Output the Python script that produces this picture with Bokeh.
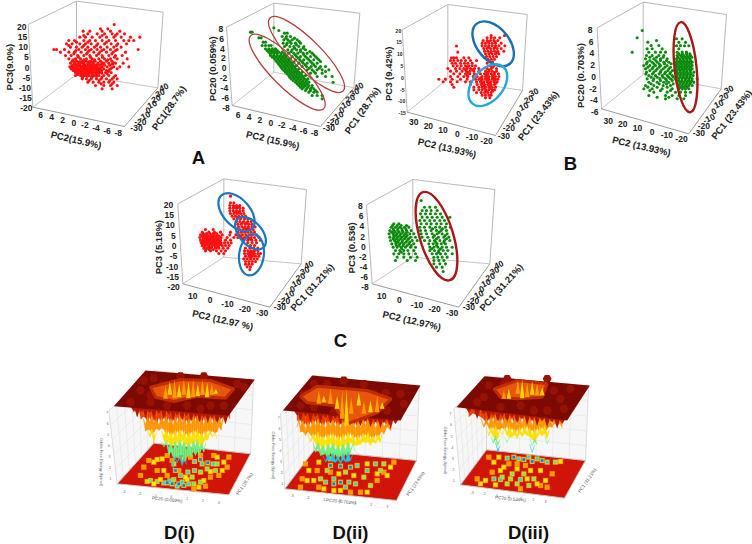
from bokeh.plotting import figure
from bokeh.embed import file_html
from bokeh.resources import INLINE
from bokeh.core.properties import value

F = "Liberation Sans"
RED, GREEN = "#ff1010", "#0a8a0a"

# ---------- scatter values: {row: [columns]} in crop units
a1_rows = {72:[341],85:[300,322],92:[248,268,305,330,358],100:[262,290,312,335,350,372],
110:[238,255,275,298,318,340,362,390,418],120:[205,222,250,268,285,305,325,345,370,385,400],
130:[198,215,238,255,272,292,312,332,352,378],140:[210,228,245,262,282,300,320,340,362],
147:[160,168,192,235,255,272,290,310,330,350,413],155:[180,205,222,242,262,280,298,318,338,375],
165:[195,212,232,250,268,288,305,325,345,365],175:[205,225,240,258,275,295,312,330,350,380],
182:[215,228,244,256,270,284,300,318,334],188:[210,222,235,248,262,278,292,310,325,345,368],
194:[216,226,238,250,262,274,286,298,312,328],199:[208,218,228,240,252,265,278,290,305,320,340,358,385],
205:[212,222,232,245,255,268,280,295,310,330,350],210:[218,230,242,254,266,278,292,304,318],
216:[225,235,248,258,270,285,298,315,332],225:[225,240,252,265,280,295,310,325,345],
235:[245,258,272,288,302,318,335,350],245:[262,278,295,310,325,340],255:[285,310,330,350],265:[305,335]}
a1_more = {105:[250,305,345],125:[228,262,318],135:[205,250,288,348],150:[226,266,304,345],160:[220,258,294,334],
170:[234,270,306,342],178:[218,250,282,322],186:[242,270,304,338],
191:[232,268,304,336],202:[224,250,274,300,334],208:[226,260,288,326],
213:[240,264,296,324],220:[232,256,290,320],230:[246,274,304,340],240:[266,296,328],250:[302,335]}
a1_core = {184:[222,236,250,264,278],192:[224,238,252,266,280,294],197:[214,232,246,258,272,284],203:[218,228,242,258,270,284,292],
207:[236,248,262,276,300],212:[224,236,248,272,286,298],218:[240,252,264,278,292,304],222:[232,246,262,274,288],227:[248,260,274,288]}
a2_low = {95:[750,755],112:[775,782],125:[788,795],135:[785,795,805,812],145:[795,805,815,825],
155:[805,815,825,835,845],165:[810,820,830,840,850,858],175:[822,832,842,852,862,870],
185:[830,840,850,860,870,880],195:[838,848,858,868,878,888],205:[845,855,865,875,885,895],
215:[855,865,875,885,895,905],225:[865,875,885,895,905,915],235:[872,882,892,902,912,922],
245:[885,895,905,915,925],255:[895,905,915,925,935],265:[905,918,930,940],275:[925,940,950],
285:[935,950,965],295:[965]}
a2_lowm = {150:[800,810,820,830],160:[810,820,830,842,852],170:[816,826,836,846,856],180:[826,836,846,856,866],190:[834,844,854,864,874],
200:[842,852,862,872,882],210:[850,860,870,880,890],220:[860,870,880,890,900],230:[868,878,888,898,908],240:[878,888,898,908,918],250:[890,900,910,920],260:[900,910,922,934],270:[915,930,945]}
a2_up = {82:[820],90:[835],98:[852,860],108:[845,858,870],118:[850,862,875,890],128:[848,860,872,885,900],
138:[852,868,880,895,910],148:[862,875,888,900,915],158:[865,880,892,908,920,935],
168:[875,888,900,915,930,945],178:[885,898,910,925,940,955],188:[895,908,920,935,950],
198:[905,918,932,945,960,975],208:[920,935,950,965,985],218:[930,945,965],228:[950,975,995],245:[998]}
a2_upm = {113:[856,882],123:[868,896],133:[858,888],143:[882,908],153:[872,900,928],
163:[884,910,940],173:[894,920,950],183:[904,930,960],193:[914,940],203:[926,956],213:[940,975]}
b1_rows = {105:[362,402],112:[350,362,372,388],120:[338,350,360,370,382],128:[335,345,355,365,375,392],
136:[335,345,355,365,375,385,403],144:[340,350,360,370,380,392],152:[342,352,362,372,382,400],
160:[345,355,365,375,385],168:[348,358,368,378],176:[352,362,372],184:[358,366],136.5:[258],
155:[262],172:[243,250,258,280,295],180:[240,250,262,272,285,300,318],188:[245,255,270,282,292,305,350],
196:[248,260,272,285,295,305,315,360,370],204:[232,255,268,280,290,300,312,325,350,362,378],
212:[240,258,275,288,298,310,325,345,355,365,378],220:[250,268,285,298,312,330,342,352,362,372,384],
228:[240,262,280,292,308,320,335,345,355,365,375,385],236:[205,225,245,270,290,315,325,335,345,355,365,375,382],
244:[218,240,260,285,300,318,330,340,350,360,370,380],252:[245,300,320,332,342,352,362,372],
260:[250,310,325,335,345,355,365,375],268:[310,325,335,345,355,365,372],276:[318,332,342,352,362],
284:[335,345,355,362],292:[345,358]}
b1_more = {124:[354,374],140:[354,374],156:[360,380],200:[290,366],208:[285,306,356],216:[292,350,372],224:[290,348,368],
232:[330,350,370],240:[332,352,372],248:[336,356,376],256:[340,360],264:[342,362],272:[348,366]}
b2_rows = {90:[815],112:[800],120:[858],125:[832],135:[842,865],145:[830,845,875,925],155:[785,835,855,870,885,920,935,948],
115:[918,935],125.5:[925,945],135.5:[918,930,942,955],165:[828,845,865,880,920,930,940,950,960],175:[825,850,870,890,918,928,938,948,958],
185:[830,845,860,880,895,915,925,935,945,955,965],195:[820,838,855,870,890,915,925,935,945,955,965],
205:[825,845,860,878,895,915,925,935,945,955,965],215:[828,850,870,885,900,918,928,938,948,958,970],
225:[835,855,875,890,905,918,928,938,948,958,968],235:[830,850,868,885,900,915,925,935,945,955,965,980],
245:[835,860,880,895,920,930,940,950,960,970],255:[825,850,878,900,925,935,945,955,965],
265:[820,845,875,905,925,935,945,955],275:[850,890,915,930,945,960],285:[835,885,905,925,945],295:[885,920,940]}
b2_more = {160:[925,936,948,958],170:[922,934,944,954,964],180:[920,930,940,950,960],190:[920,930,940,950,960],200:[920,930,940,950,960],
210:[920,930,940,950,960],220:[922,932,942,952,962],230:[920,930,940,950,960],240:[924,934,944,954,964],250:[928,938,948,958],260:[930,940,950]}
b2_left = {170:[838,858,878],180:[838,856,870,888],190:[828,850,866,882,902],200:[832,848,866,884,900],210:[838,856,872,892,906],220:[826,846,866,882,898],
230:[842,860,878,894,908],240:[848,870,888,905],250:[842,866,888,908],260:[832,860,890],270:[838,870,900],290:[860,895]}
c1_rows = {92:[240],112:[240,250],120:[238,248,258,268],128:[238,248,258,268,278],136:[238,248,258,268,278],
144:[240,250,260,270,280],152:[245,255,265,275,285],160:[250,260,270,282,292],168:[258,268,280,292,302],
176:[262,272,284,294,304],184:[264,274,284,294,304,314],192:[165,188,268,278,288,298,308],200:[155,175,192,210,240,262,272,282,292,302,312],
208:[150,160,170,180,190,200,215,238,256,266,276,286,296,306,318],216:[148,158,168,178,188,198,212,230,250,262,272,282,292,302,312,325],
224:[150,160,170,180,190,200,210,225,240,280,292,304,316,330],232:[152,162,172,182,192,202,212,222,232,242,292,305,318],
240:[155,165,175,185,195,205,215,225,236,300,312],248:[160,170,180,195,205,218,232,285,298,310,322],
256:[165,180,198,212,225,282,292,302,312,322],264:[205,220,282,292,302,312,322,330],272:[285,295,305,315,325],
280:[280,290,300,310,320],288:[285,295,305,315],296:[285,295,305],304:[290,300],312:[298]}
c1_more = {124:[253,263],140:[255,265],156:[262,272],172:[276,288],188:[282,292],212:[164,184,206,270,290],220:[174,194,278,298],228:[166,186,206],
236:[170,190,210],244:[175,200],260:[298,308],268:[298,308],276:[300]}
c1_core = {204:[158,168,178,188,198],212:[156,172,192],216.5:[162,182,202],220:[158,168,184,204],228:[156,176,196],232.5:[168,188,208],236:[158,178,198],244:[162,184,194],252:[166,176,188]}
c2_rows = {105:[812],125:[822,838,855],135:[815,828,842,860],145:[810,825,840,855,870],155:[815,830,845,860,875,898],
165:[808,822,838,852,868,882],175:[730,745,812,828,842,858,872,888],185:[722,735,748,762,775,808,822,838,855,868,885,900],
195:[718,730,742,755,768,782,810,825,842,858,872,888],205:[716,728,740,752,765,778,790,812,828,845,860,875,890],
215:[718,730,742,754,766,780,795,815,832,848,864,880,895],225:[720,732,744,756,770,785,800,822,838,852,868,882,898],
235:[724,736,748,760,775,790,835,848,860,872,885],245:[728,740,752,765,780,795,838,850,862,875,888,905],
255:[735,748,760,772,790,838,852,865,878,892],265:[730,745,760,775,795,845,858,870,885,905],
275:[740,760,780,800,850,862,875,890],285:[735,770,795,850,865,880],295:[850,868,885],305:[858,875],318:[878]}
c2_more = {190:[728,754,846,876],200:[734,758,866],210:[736,760,852,884],220:[738,762,858,888],
230:[742,766,856,880],240:[746,770,858],250:[754,844,870],260:[752,864]}
c2_core = {180:[726,740,752,768],190:[742,766],200:[724,746,770],210:[730,748,770],220:[728,750,774],230:[736,754,778],240:[738,758,782]}

# ---------- panel furniture: crop origin, box corners, tick text
z_pc3 = ["20","15","10","5","0","-5","-10","-15","-20"]
z_pc20 = ["8","6","4","2","0","-2","-4","-6","-8"]
pc1_a = ["-30","-20","-10","0","10","20","30","40"]
pc1_b = ["-30","-20","-10","0","10","20","30"]
pc2_a = ["6","4","2","0","-2","-4","-6","-8"]
pc2_b = ["30","20","10","0","-10","-20"]
pc2_c = ["10","0","-10","-20","-30"]
energy_ticks = ["1","2","3","4","5","6","7"]
pc_ticks = ["-3","-2","-1","0","1","2","3"]

panels = [
 dict(o=(0,0),tb=(228,2),tl=(83,72),tr=(488,35),lb=(97,320),fr=(372,378),rb=(472,262),fb=(228,222),
      zt=z_pc3,ze=((78,80),(96,322)),zs=8.5,xt=pc2_a,xe=((120,342),(353,398)),yt=pc1_a,ye=((408,382),(490,260)),
      xl="PC2(15.9%)",xp=(227,418),yl="PC1(28.7%)",yp=(505,322),yang=55,zl="PC3(9.0%)",zp=(27,200)),
 dict(o=(0,0),tb=(820,8),tl=(678,80),tr=(1078,38),lb=(695,315),fr=(960,378),rb=(1060,262),fb=(820,215),
      zt=z_pc20,ze=((668,85),(688,322)),zs=8.5,xt=pc2_a,xe=((713,342),(942,398)),yt=pc1_a,ye=((985,382),(1075,258)),
      xl="PC2 (15.9%)",xp=(817,418),yl="PC1 (28.7%)",yp=(1085,330),yang=55,zl="PC20 (0.059%)",zp=(635,205)),
 dict(o=(370,0),tb=(232,12),tl=(95,88),tr=(470,42),lb=(110,335),fr=(375,405),rb=(456,270),fb=(232,235),
      zt=z_pc3[:8],ze=((92,90),(106,338)),zs=5,xt=pc2_b,xe=((130,365),(348,422)),yt=pc1_b,ye=((400,405),(490,275)),
      xl="PC2 (13.93%)",xp=(230,442),yl="PC1 (23.43%)",yp=(503,345),yang=52,zl="PC3 (9.42%)",zp=(53,220)),
 dict(o=(370,0),tb=(818,5),tl=(680,82),tr=(1068,42),lb=(693,325),fr=(955,400),rb=(1052,265),fb=(818,222),
      zt=z_pc20[:8],ze=((666,88),(684,335)),zs=8.5,xt=pc2_b,xe=((713,360),(933,415)),yt=pc1_b,ye=((985,398),(1075,267)),
      xl="PC2 (13.93%)",xp=(813,437),yl="PC1 (23.43%)",yp=(1083,342),yang=52,zl="PC20 (0.703%)",zp=(630,225)),
 dict(o=(150,165),tb=(220,40),tl=(82,115),tr=(468,72),lb=(97,355),fr=(358,425),rb=(452,295),fb=(220,275),
      zt=z_pc3,ze=((68,118),(88,365)),zs=8.5,xt=pc2_c,xe=((127,390),(335,443)),yt=pc1_a,ye=((388,425),(475,298)),
      xl="PC2 (12.97 %)",xp=(217,463),yl="PC1 (31.21%)",yp=(485,365),yang=48,zl="PC3 (5.18%)",zp=(25,245)),
 dict(o=(150,165),tb=(787,42),tl=(648,118),tr=(1033,72),lb=(665,355),fr=(925,425),rb=(1018,295),fb=(787,275),
      zt=z_pc20,ze=((637,122),(655,365)),zs=8.5,xt=pc2_c,xe=((694,392),(905,443)),yt=pc1_a,ye=((955,425),(1045,298)),
      xl="PC2 (12.97%)",xp=(784,465),yl="PC1 (31.21%)",yp=(1052,365),yang=48,zl="PC3 (0.536)",zp=(602,247)),
]
clouds = [((0,0),a1_rows,RED),((0,0),a1_more,RED),((0,0),a1_core,RED),((0,0),a2_low,GREEN),((0,0),a2_lowm,GREEN),((0,0),a2_up,GREEN),((0,0),a2_upm,GREEN),((370,0),b1_rows,RED),((370,0),b1_more,RED),
          ((370,0),b2_rows,GREEN),((370,0),b2_more,GREEN),((370,0),b2_left,GREEN),((150,165),c1_rows,RED),((150,165),c1_more,RED),((150,165),c1_core,RED),((150,165),c2_rows,GREEN),((150,165),c2_more,GREEN),((150,165),c2_core,GREEN)]
# crop origin, centre, semi axes, screen tilt in degrees, colour
rings = [((0,0),(860,215),155,44,-45,"#b04040",1.3),((0,0),(918,162),155,44,-45,"#b04040",1.3),
 ((370,0),(368,130),78,48,-50,"#1a6fb0",2.4),((370,0),(352,254),72,46,50,"#22a8de",2.4),
 ((370,0),(945,200),136,33,-84,"#a81818",2.4),
 ((150,165),(258,140),68,40,-48,"#1a78c0",2.2),((150,165),(300,203),58,34,-48,"#1a78c0",2.2),
 ((150,165),(303,268),62,37,82,"#1a78c0",2.2),((150,165),(858,212),138,50,-73,"#a81818",2.4)]

p = figure(width=752,height=544,x_range=(0,752),y_range=(544,0),toolbar_location=None,
           output_backend="svg",min_border=0,outline_line_color=None,background_fill_color="white")
p.axis.visible=False; p.grid.visible=False

def P(o,q): return (o[0]+q[0]/3, o[1]+q[1]/3)
def lerp(a,b,n): return [(a[0]+(b[0]-a[0])*i/(n-1), a[1]+(b[1]-a[1])*i/(n-1)) for i in range(n)]
def txt(x,y,s,size,ang=0,al="center",col="#222222",st="bold"):
    p.text([x],[y],text=[s],text_font=value(F),text_font_size=f"{size}px",text_font_style=st,
           text_color=col,text_align=al,text_baseline="middle",angle=[ang],angle_units="deg")

for d in panels:
    o=d["o"]; c=lambda k:P(o,d[k])
    for a,b,col in [("tl","tb","#b8b8b8"),("tb","tr","#b8b8b8"),("tl","lb","#b8b8b8"),("tb","fb","#b8b8b8"),("tr","rb","#b8b8b8"),
                    ("lb","fb","#c4c4c4"),("fb","rb","#c4c4c4"),("lb","fr","#9a9a9a"),("fr","rb","#9a9a9a")]:
        A,B=c(a),c(b); p.line([A[0],B[0]],[A[1],B[1]],line_color=col,line_width=1)
    for s,q in zip(d["zt"],lerp(d["ze"][0],d["ze"][1],len(d["zt"]))):
        X,Y=P(o,q); txt(X,Y,s,d["zs"],al="right")
    for s,q in zip(d["xt"],lerp(d["xe"][0],d["xe"][1],len(d["xt"]))):
        X,Y=P(o,q); txt(X,Y,s,8.5)
    for s,q in zip(d["yt"],lerp(d["ye"][0],d["ye"][1],len(d["yt"]))):
        X,Y=P(o,q); txt(X,Y,s,8.5,ang=25 if s not in("-30","-20") else 0)
    X,Y=P(o,d["xp"]); txt(X,Y,d["xl"],9.5,ang=-13)
    X,Y=P(o,d["yp"]); txt(X,Y,d["yl"],9.5,ang=d["yang"])
    X,Y=P(o,d["zp"]); txt(X,Y,d["zl"],9.5,ang=90)

for o,rows,col in clouds:
    xs,ys=[],[]
    for r,cols in rows.items():
        for cc in cols:
            X,Y=P(o,(cc,r)); xs.append(X); ys.append(Y)
    p.scatter(xs,ys,size=3.1,marker="circle",fill_color=col,line_color=None)

for o,ctr,a,b,ang,col,lw in rings:
    X,Y=P(o,ctr)
    p.ellipse([X],[Y],width=[2*a/3],height=[2*b/3],angle=[ang],angle_units="deg",
              fill_color=None,line_color=col,line_width=lw,width_units="screen",height_units="screen")

for s,x,y in [("A",198,157),("B",570,163),("C",340,340),("D(i)",179,532),("D(ii)",350,532),("D(iii)",528,532)]:
    txt(x,y,s,18.5,col="#111111")

# ---------- energy surfaces
d1_spike_x=[100,110,122,135,148,160,175,190,205,218,230,245,258,272,285,297,310,322,335,350,362,375,388]
d1_spike_t=[170,180,195,235,245,270,230,275,300,355,320,335,325,310,300,300,290,265,245,245,225,200,190]
d2_spike_x=[590,600,615,630,645,660,675,690,705,720,735,750,765,780,795,810,825,840,850,870,885]
d2_spike_t=[210,245,240,260,290,310,325,330,335,325,330,335,280,280,270,270,280,265,240,225,195]
d3_spike_x=[325,350,370,385,398,412,425,440,455,470,485,500,515,530,545,560,575,590,605]
d3_spike_t=[185,195,215,240,265,295,235,275,255,250,245,255,295,270,245,265,225,215,220]
d1_hole=[(150,95),(240,72),(330,75),(400,100),(375,128),(290,122),(220,138),(165,125)]
d2_hole=[(600,122),(650,92),(800,105),(872,130),(830,172),(740,205),(700,150),(620,142)]
d3_hole=[(400,100),(470,75),(560,85),(545,125),(470,130),(420,125)]
d1_ray_x=[195,208,222,236,250,264,278,292,306,320,334,346]
d1_ray_t=[90,78,72,85,72,78,72,85,72,80,85,100]
d1_ray_b=[130,118,128,125,118,128,125,122,118,125,118,115]
d2_ray_x=[655,670,690,710,725,738,752,775,790,810,830,845]
d2_ray_t=[105,120,100,120,105,100,125,110,135,135,120,140]
d2_ray_b=[145,140,145,160,190,210,175,150,175,170,170,160]
d3_ray_x=[430,445,472,485,500,515,530,545]
d3_ray_t=[105,100,75,72,80,78,85,95]
d3_ray_b=[130,130,115,128,125,118,120,120]
d1_blot=[(130,75),(160,68),(120,105),(185,90),(340,100),(410,85),(380,105),(90,140),(200,150),(260,150),(330,150),(150,140),(300,160),(430,95),(240,62),(310,62),(150,120),(370,150)]
d2_blot=[(640,85),(680,85),(610,115),(655,125),(820,115),(855,112),(900,115),(640,155),(700,170),(860,165),(600,150),(730,75),(790,85),(910,145)]
d3_blot=[(385,90),(430,85),(370,125),(350,140),(580,105),(630,100),(600,130),(420,155),(520,165),(480,150),(560,165),(610,160),(440,70),(560,70)]
d1_floor=[(215,385,4),(235,385,4),(250,390,4),(200,382,4),(225,345,4),(300,312,4),(322,322,4),(190,382,3),(208,376,3),(265,385,3),(245,380,3),(230,392,3),(282,318,3),(305,325,3),(338,325,3),(262,350,3),(282,345,3),(240,360,3),(150,375,2),(170,378,2),(280,385,2),(300,380,2),(350,325,2),(320,340,2),(300,350,2),(345,345,2),(275,365,2),(160,320,1),(190,345,1),(185,310,1),(220,325,1),(250,310,1),(370,320,1),(365,345,1),(140,378,1),(310,375,1),(295,395,1),(255,365,1),(170,345,0),(145,315,0),(130,335,0),(200,300,0),(270,305,0),(340,300,0),(385,305,0),(330,365,0),(280,400,0),(200,360,0),(235,345,0),(160,385,1),(180,372,1),(220,372,2),(260,372,1),(315,392,0),(330,348,1),(380,335,0),(350,305,1),(300,300,0),(215,315,0),(170,312,1),(120,360,0),(235,300,0),(355,360,0)]
d2_floor=[(690,330,4),(720,332,4),(750,335,4),(700,385,4),(720,380,4),(745,380,3),(770,330,3),(800,345,3),(825,325,3),(675,380,3),(700,370,3),(735,395,3),(765,385,3),(660,370,2),(790,365,2),(810,390,2),(840,345,2),(680,345,2),(850,325,2),(735,350,2),(640,375,1),(625,345,1),(655,320,1),(690,310,1),(870,335,1),(860,360,1),(760,360,1),(800,410,1),(700,405,1),(655,395,0),(605,370,0),(615,325,0),(880,320,0),(830,375,0),(780,410,0),(690,350,0),(670,400,1),(720,405,1),(750,410,0),(830,355,1),(800,325,1),(715,355,1),(650,345,0),(600,395,0),(850,350,0),(620,375,1)]
d3_floor=[(460,305,4),(490,312,4),(515,318,4),(545,315,4),(475,310,3),(440,308,3),(505,305,3),(560,320,3),(530,310,3),(400,370,3),(420,372,3),(480,372,3),(455,355,2),(490,355,2),(520,370,2),(425,365,2),(585,320,2),(440,385,2),(470,385,2),(505,390,2),(415,305,1),(400,320,1),(430,335,1),(470,340,1),(510,345,1),(540,345,1),(375,375,1),(360,385,1),(555,375,1),(600,318,1),(395,350,0),(445,325,0),(540,390,0),(480,400,0),(385,305,0),(350,370,0),(575,355,0),(450,370,2),(500,370,1),(405,388,1),(530,385,1),(560,395,0),(470,325,0),(420,345,1),(495,330,0)]

surfs=[dict(o=(100,355),pl=[(40,152),(135,45),(463,72),(385,180)],fl=[(50,385),(160,263),(450,295),(385,418)],sx=d1_spike_x,st=d1_spike_t,
            hole=d1_hole,rx=d1_ray_x,rt=d1_ray_t,rb=d1_ray_b,blot=d1_blot,floor=d1_floor,wtl=(25,165),lab="PC20 (0.059%)",lp=(200,432),laby="PC1 (28.7%)",lyp=(432,385),
            stops=[150,195,235,268,312,345],zlab="Gibbs Free Energy (kj/mol)",zp=(4,320),tk=((70,408),(355,440)),ztk=((20,172),(30,368))),
      dict(o=(100,355),pl=[(547,165),(635,60),(960,90),(900,195)],fl=[(553,400),(640,285),(948,315),(888,435)],sx=d2_spike_x,st=d2_spike_t,
            hole=d2_hole,rx=d2_ray_x,rt=d2_ray_t,rb=d2_ray_b,blot=d2_blot,floor=d2_floor,wtl=(540,175),lab="PC20 (0.703%)",lp=(722,438),laby="PC1 (23.43%)",lyp=(945,385),
            stops=[165,205,245,275,305,330],zlab="Gibbs Free Energy (kj/mol)",zp=(520,300),tk=((575,420),(860,452)),ztk=((535,185),(545,385))),
      dict(o=(360,355),pl=[(288,155),(372,62),(688,90),(620,195)],fl=[(300,388),(378,283),(675,315),(612,428)],sx=d3_spike_x,st=d3_spike_t,
            hole=d3_hole,rx=d3_ray_x,rt=d3_ray_t,rb=d3_ray_b,blot=d3_blot,floor=d3_floor,wtl=(280,160),lab="PC20 (0.536%)",lp=(450,430),laby="PC1 (31.21%)",lyp=(680,375),
            stops=[155,195,225,255,275,295],zlab="Gibbs Free Energy (kj/mol)",zp=(255,285),tk=((335,410),(555,437)),ztk=((270,175),(280,375)))]
jet=["#e83c00","#ff9600","#ffe000","#70f080","#20c8e0","#1040e0"]
lev=["#ff9a00","#ffe800","#70e870","#30d0e0","#1c70f0"]
zig=[10,-14,6,-9,15,-6,12,-11,4,-15,8,-4,13,-8,5,-12,9,-5,14,-10]

for s in surfs:
    o=s["o"]; pts=lambda L:[P(o,q) for q in L]
    pl=pts(s["pl"]); fl=pts(s["fl"])
    bk=(fl[1][0],pl[1][1]); rt=(fl[2][0]+ (pl[2][0]-fl[2][0])*0.7,pl[2][1]+1)
    wl=P(o,s["wtl"])
    wall=[(wl,bk,fl[1],fl[0]),(bk,rt,fl[2],fl[1])]
    for w in wall:
        p.patch([q[0] for q in w],[q[1] for q in w],fill_color="#f7f7f7",line_color="#cfcfcf",line_width=0.7)
        for a,b in zip(lerp(w[0],w[3],6)[1:-1],lerp(w[1],w[2],6)[1:-1]):
            p.line([a[0],b[0]],[a[1],b[1]],line_color="#e2e2e2",line_width=0.6)
        for a,b in zip(lerp(w[0],w[1],7)[1:-1],lerp(w[3],w[2],7)[1:-1]):
            p.line([a[0],b[0]],[a[1],b[1]],line_color="#e2e2e2",line_width=0.6)
    p.patch([q[0] for q in fl],[q[1] for q in fl],fill_color="#d01408",line_color="#c8c8c8",line_width=1)
    for lv in range(5):
        sel=[P(o,(q[0],q[1])) for q in s["floor"] if q[2]>=lv]
        sz=[5.2,3.6,3.2,2.8,2.5][lv]
        p.scatter([q[0] for q in sel],[q[1] for q in sel],size=sz,marker="square",fill_color=lev[lv],line_color=None)
    # hanging funnel: colour bands clipped by the zigzag of tips and the notches between them
    sx=s["sx"]; st=s["st"]; ox=[]; oy=[]
    for i in range(len(sx)):
        ox.append(sx[i]); oy.append(st[i])
        if i<len(sx)-1:
            ox.append((sx[i]+sx[i+1])/2); oy.append(min(st[i],st[i+1])-12)
    stops=s["stops"]
    for i in range(5):
        qx=[];qy=[]
        for k in range(len(ox)-1):
            j0=zig[k%20]; j1=zig[(k+1)%20]
            t0=stops[i]+j0; t1=stops[i]+j1
            b0=min(stops[i+1]+zig[(k+7)%20],oy[k]); b1=min(stops[i+1]+zig[(k+8)%20],oy[k+1])
            if b0<=t0 and b1<=t1: continue
            b0=max(b0,t0); b1=max(b1,t1)
            q=[P(o,(ox[k],t0)),P(o,(ox[k+1],t1)),P(o,(ox[k+1],b1)),P(o,(ox[k],b0))]
            qx.append([v[0] for v in q]); qy.append([v[1] for v in q])
        p.patches(qx,qy,fill_color=jet[i],line_color=jet[i],line_width=0.3)
    # dark teeth hanging under the plate's front edge
    L,Fr=s["pl"][0],s["pl"][3]
    for n,x in enumerate(sx):
        if L[0]<x<Fr[0]:
            y=L[1]+(Fr[1]-L[1])*(x-L[0])/(Fr[0]-L[0])
            q=[P(o,(x-9,y-2)),P(o,(x+9,y-2)),P(o,(x,y+(28 if n%2 else 12)))]
            p.patch([v[0] for v in q],[v[1] for v in q],fill_color="#b01804",line_color=None)
    p.patch([q[0] for q in pl],[q[1] for q in pl],fill_color="#7c0a02",line_color=None)
    b=pts(s["blot"])
    p.scatter([q[0] for q in b],[q[1] for q in b],size=9,marker="hex",fill_color="#981204",line_color=None)
    ho=pts(s["hole"])
    p.patch([q[0] for q in ho],[q[1] for q in ho],fill_color="#e8560a",line_color="#c02c06",line_width=3)
    for n,(x,tp,bt) in enumerate(zip(s["rx"],s["rt"],s["rb"])):
        q=[P(o,(x,tp)),P(o,(x+7,bt)),P(o,(x-7,bt))]
        p.patch([v[0] for v in q],[v[1] for v in q],fill_color="#ffd400" if n%2 else "#ff9a00",line_color=None)
    X,Y=P(o,s["lp"]); txt(X,Y,s["lab"],4.5,ang=-6,col="#555555",st="normal")
    X,Y=P(o,s["lyp"]); txt(X,Y,s["laby"],4.5,ang=55,col="#555555",st="normal")
    X,Y=P(o,s["zp"]); txt(X,Y,s["zlab"],4,ang=-90,col="#555555",st="normal")
    for t,q in zip(pc_ticks,lerp(s["tk"][0],s["tk"][1],7)):
        X,Y=P(o,q); txt(X,Y,t,3.5,col="#666666",st="normal")
    for t,q in zip(energy_ticks[::-1],lerp(s["ztk"][0],s["ztk"][1],7)):
        X,Y=P(o,q); txt(X,Y,t,3.5,col="#666666",st="normal")

open("out.html","w").write(file_html(p,INLINE))
